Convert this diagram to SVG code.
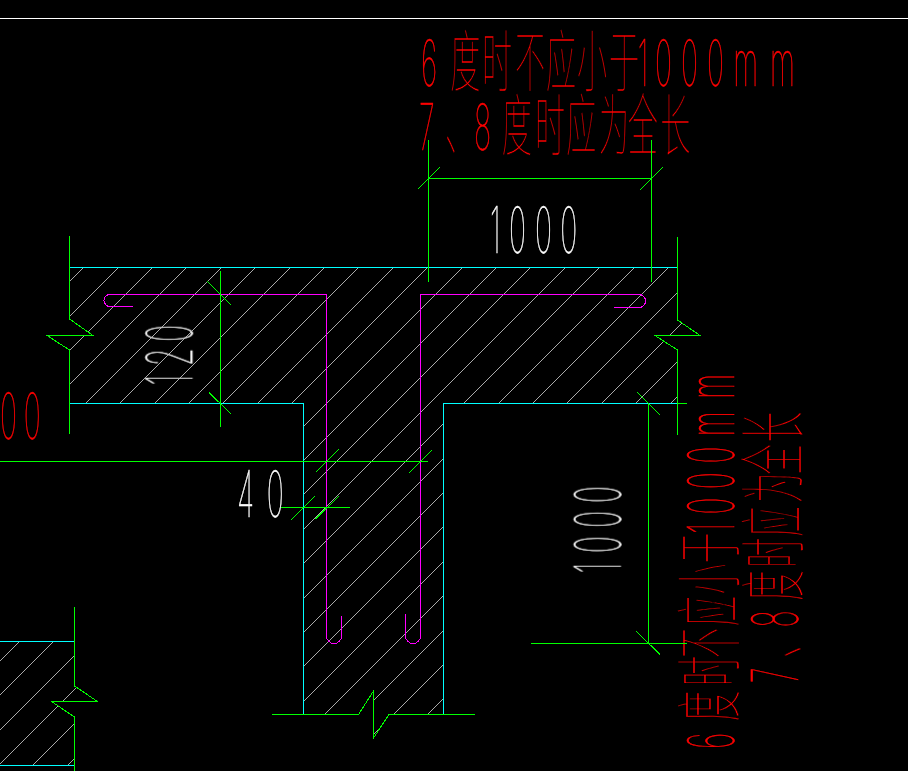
<svg xmlns="http://www.w3.org/2000/svg" width="908" height="771" viewBox="0 0 908 771">
<style>
text{font-family:Inter,"Noto Sans CJK SC",sans-serif;font-weight:100;font-size:64px;stroke-width:.7px}
.r{fill:#f00;stroke:#f00}.w{fill:#fff;stroke:#fff}
.k{font-size:67px;stroke:#000;stroke-width:.5px}
path,line{fill:none;shape-rendering:crispEdges;stroke-width:1}
.g{stroke:#0f0}.c{stroke:#0ff}.m{stroke:#f0f}.t{stroke:#fff}
.h{stroke:#c8c8c8;stroke-width:.85}
</style>
<defs>
<clipPath id="hc"><path d="M69.5 267.5H677.5V320L700 335H655L677.5 350V403.5H443.5V714.5H389L373.5 738V691L358.5 714.5H303.5V403.5H69.5V350L47 335H93L69.5 319ZM0 641.5H74.5V686L97.5 701H51.5L74.5 717V765.5H0Z"/></clipPath>
</defs>
<rect width="908" height="771" fill="#000"/>
<g id="labels" opacity=".99">
<text class="r" transform="translate(420 85.7) scale(.45 1)" x="2 30 67 138 211 280 349 420 484 522 580 638 680 696 778">6 <tspan class="k">度时不应小于</tspan>1000 mm</text>
<text class="r" transform="translate(419 149.5) scale(.45 1)" x="0 58 122 160 184 258 327 400 464 536">7<tspan class="k">、</tspan>8 <tspan class="k">度时应为全长</tspan></text>
<text class="w" transform="translate(490 253) scale(.45 1)" x="0 42 100 156">1000</text>
<text class="w" transform="translate(192.3 383.5) rotate(-90) scale(.45 1)" x="-4 39 93">120</text>
<text class="w" transform="translate(238 516.7) scale(.45 1)" x="-2 64">40</text>
<text class="r" transform="translate(0 439.3) scale(.45 1)" x="0 53">00</text>
<text class="w" transform="translate(620.7 571.5) rotate(-90) scale(.45 1)" x="-4 41 97 152">1000</text>
<text class="r" transform="translate(734.3 748) rotate(-90) scale(.45 1)" x="-2 30 60 138 200 271 342 411 476 519 575 632 670 693 776">6 <tspan class="k">度时不应小于</tspan>1000 mm</text>
<text class="r" transform="translate(798.3 683.3) rotate(-90) scale(.45 1)" x="0 57 124 165 184 257 326 401 464 536">7<tspan class="k">、</tspan>8 <tspan class="k">度时应为全长</tspan></text>
</g>
<line class="t" x1="0" y1="18.5" x2="908" y2="18.5"/>
<g id="hatch" clip-path="url(#hc)"><path class="h" d="M316.8 0L0 316.8M351.2 0L0 351.2M385.6 0L0 385.6M420 0L0 420M454.4 0L0 454.4M488.8 0L0 488.8M523.2 0L0 523.2M557.6 0L0 557.6M592 0L0 592M626.4 0L0 626.4M660.8 0L0 660.8M695.2 0L0 695.2M729.6 0L0 729.6M764 0L0 764M798.4 0L0 798.4M832.8 0L0 832.8M867.2 0L0 867.2M901.6 0L0 901.6M936 0L0 936M970.4 0L0 970.4M1004.8 0L0 1004.8M1039.2 0L0 1039.2M1073.6 0L0 1073.6M1108 0L0 1108M1142.4 0L0 1142.4M1176.8 0L0 1176.8"/></g>
<g id="outline">
<path class="c" d="M69.5 267.5H677.5M69.5 403.5H303.5V714.5M443.5 714.5V403.5H677.5M0 641.5H74.5M0 765.5H74.5"/>
</g>
<g id="rebar">
<path class="m" d="M133 306.5H110A6 6 0 0 1 110 294.5H326.5V636A7.5 7.5 0 0 0 341.5 636V616"/>
<path class="m" d="M614 307.5H639A6.5 6.5 0 0 0 639 294.5H420.5V636A7.5 7.5 0 0 1 405.5 636V614"/>
</g>
<g id="connectors">
<path class="g" d="M69.5 236V319L93 335.5H47L69.5 350V434"/>
<path class="g" d="M677.5 237V320L700 335.5H655L677.5 350V434.5"/>
<path class="g" d="M74.5 607V686L97.5 701.5H51.5L74.5 717V771"/>
<path class="g" d="M272 714.5H358.5L373.5 691V738L389 714.5H475"/>
<path class="g" d="M428.5 140V281.5M651.5 140V281.5M428.5 178.5H651.5M417.5 189.5L439.5 167.5M639.5 190.5L662.5 167.5"/>
<path class="g" d="M220.5 271V426.5M207.5 281.5L231.5 305.5M209 392.5L231.5 414.5"/>
<path class="g" d="M677.5 403.5H687M648.5 403.5V643.5M531 643.5H686.5M637 392L660.5 415.5M636 631L660 654.5"/>
<path class="g" d="M0 461.5H427.5M315.5 472.5L338.5 449.5M408.5 473.5L431.5 450.5"/>
<path class="g" d="M281 507.5H350M291 520L315 496M315.5 519L339 496"/>
</g>
</svg>
